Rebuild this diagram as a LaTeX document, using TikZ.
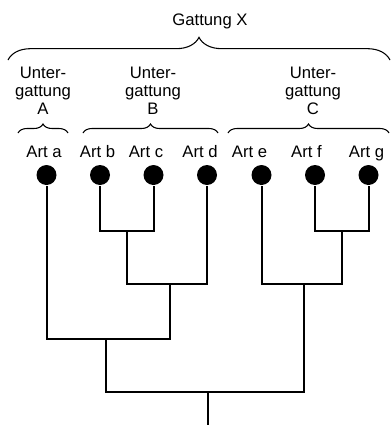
\documentclass[tikz,border=0pt]{standalone}
\usepackage{fontspec}
\setmainfont{Liberation Sans}
\usetikzlibrary{decorations.pathreplacing}
\usetikzlibrary{positioning}

\tikzset{
    art/.style={circle, fill=black, minimum size=15pt, inner sep=0pt},
    lbl/.style={font=\fontsize{12.5}{13.5}\selectfont, inner sep=0pt},
    klammer/.style={decorate, decoration={brace, amplitude=#1}, line width=0.8pt},
}

\begin{document}
\begin{tikzpicture}[x=0.75pt, y=0.75pt, line width=1.5pt]
    \useasboundingbox (0,0) rectangle (391,-425);

    % Arten
    \node[art] (a) at (46.5,-175) {};
    \node[art] (b) at (100,-175) {};
    \node[art] (c) at (153.5,-175) {};
    \node[art] (d) at (207,-175) {};
    \node[art] (e) at (261.5,-175) {};
    \node[art] (f) at (315,-175) {};
    \node[art] (g) at (368.5,-175) {};

    \node[lbl, anchor=base] (la) at (44,-157) {Art a};
    \node[lbl, anchor=base] (lb) at (97.5,-157) {Art b};
    \node[lbl, anchor=base] (lc) at (146,-157) {Art c};
    \node[lbl, anchor=base] (ld) at (200,-157) {Art d};
    \node[lbl, anchor=base] (le) at (249.5,-157) {Art e};
    \node[lbl, anchor=base] (lf) at (306.5,-157) {Art f};
    \node[lbl, anchor=base] (lg) at (366.5,-157) {Art g};

    % Verzweigungen
    \coordinate (jbc) at (126.7,-230.7);
    \coordinate (jbcd) at (170,-284.3);
    \coordinate (jabcd) at (106,-339);
    \coordinate (jfg) at (341.7,-230.7);
    \coordinate (jefg) at (304,-284.3);
    \coordinate (jroot) at (208,-392.3);
    \coordinate (root) at (208,-425);

    \draw (b) |- (jbc) -| (c);
    \draw (jbc) |- (jbcd) -| (d);
    \draw (a) |- (jabcd) -| (jbcd);
    \draw (f) |- (jfg) -| (g);
    \draw (e) |- (jefg) -| (jfg);
    \draw (jabcd) |- (jroot) -| (jefg);
    \draw (jroot) -- (root);

    % Klammern
    \draw[klammer=6.75pt] (18,-133) -- (68,-133);
    \draw[klammer=6.75pt] (83,-133) -- (218,-133);
    \draw[klammer=6.75pt] (228,-133) -- (389,-133);
    \draw[klammer=17pt] (8,-60) -- (390,-60);

    \node[lbl, align=center] (ua) at (43,-91) {Unter-\\gattung\\A};
    \node[lbl, align=center] (ub) at (153,-91) {Unter-\\gattung\\B};
    \node[lbl, align=center] (uc) at (313,-91) {Unter-\\gattung\\C};
    \node[lbl, anchor=base] (gx) at (210,-25) {Gattung X};
\end{tikzpicture}
\end{document}
